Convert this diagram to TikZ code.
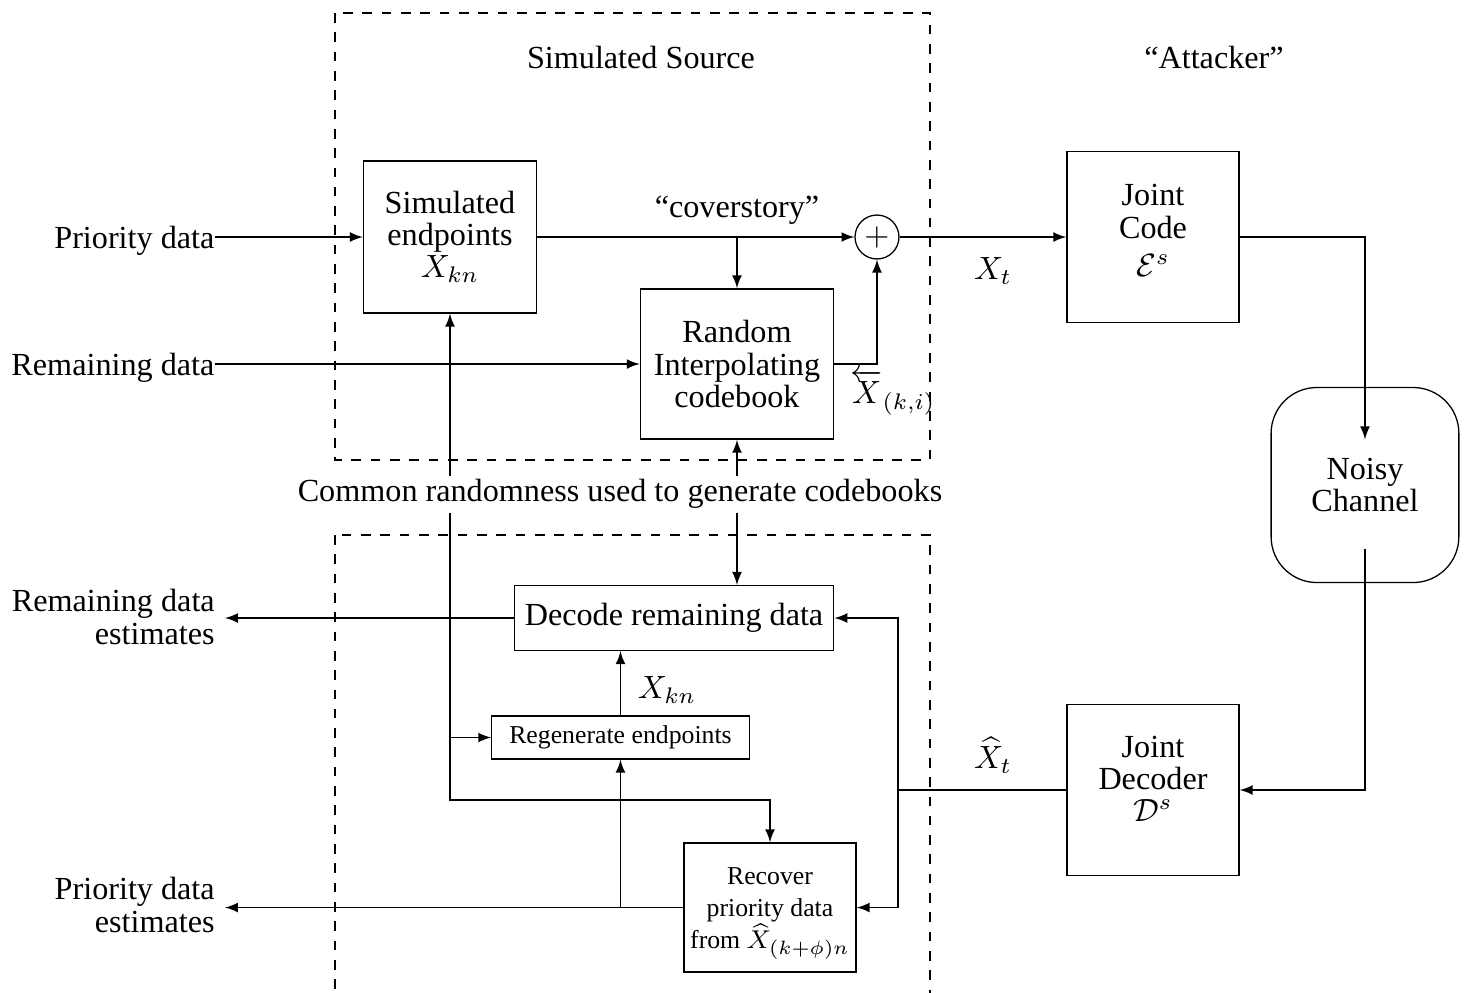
\documentclass[tikz,border=0pt]{standalone}
\usepackage{fontspec}
\setmainfont{Liberation Serif}
\usepackage{amsmath}
\usetikzlibrary{positioning}

\begin{document}
\begin{tikzpicture}[x=1.092cm, y=-1.092cm, font=\fontsize{10}{10}\selectfont,
    blk/.style={draw, align=center, inner sep=2pt},
    sml/.style={draw, align=center, inner sep=2pt, font=\fontsize{8}{10}\selectfont},
    lbl/.style={align=center, inner sep=1pt},
    arr/.style={-latex}]
    \useasboundingbox (0,0) rectangle (14.72,9.92);

    % Dashed regions
    \draw[dashed] (3.35,0.13) rectangle (9.30,4.60);
    \draw[dashed] (3.35,5.35) rectangle (9.30,10.20);
    \node[lbl] (srclbl) at (6.41,0.57) {Simulated Source};
    \node[lbl] (attlbl) at (12.14,0.57) {``Attacker''};

    % Blocks
    \node[blk, minimum width=1.89cm, minimum height=1.66cm] (sim) at (4.50,2.37) {Simulated\\endpoints\\$X_{kn}$};
    \node[blk, minimum width=2.11cm, minimum height=1.64cm] (cb) at (7.37,3.64) {Random\\Interpolating\\codebook};
    \node[draw, circle, minimum size=0.48cm, inner sep=0pt] (plus) at (8.77,2.37) {$+$};
    \node[blk, minimum width=1.88cm, minimum height=1.87cm] (enc) at (11.53,2.37) {};
    \node[lbl] (enctxt) at ([yshift=2pt]enc.center) {Joint\\Code\\[2pt]$\mathcal{E}^s$};
    \node[blk, rounded corners=0.5cm, minimum width=2.05cm, minimum height=2.13cm] (chanbox) at (13.65,4.85) {Noisy\\Channel};
    \node[minimum height=1.18cm] (chan) at (13.65,4.94) {};
    \node[blk, minimum width=1.88cm, minimum height=1.86cm] (dec) at (11.53,7.90) {};
    \node[lbl] (dectxt) at ([yshift=3.5pt]dec.center) {Joint\\Decoder\\$\mathcal{D}^s$};
    \node[blk, minimum width=3.49cm, minimum height=0.71cm] (dcd) at (6.74,6.18) {Decode remaining data};
    \node[sml, minimum width=2.81cm, minimum height=0.47cm] (regen) at (6.205,7.375) {Regenerate endpoints};
    \node[sml, minimum width=1.88cm, minimum height=1.41cm] (rec) at (7.70,9.075) {};
    \node[lbl, font=\fontsize{8}{10}\selectfont] (rectxt) at ([yshift=-1.8pt]rec.center) {Recover\\priority data\\from $\widehat{X}_{(k+\phi)n}$};

    % Inputs and outputs
    \node[lbl, anchor=east, inner sep=0pt] (pd) at (2.15,2.41) {Priority data};
    \node[lbl, anchor=east, inner sep=0pt] (rd) at (2.15,3.68) {Remaining data};
    \node[lbl, anchor=east, align=right, inner sep=3pt] (rde) at (2.25,6.17) {Remaining data\\estimates};
    \node[lbl, anchor=east, align=right, inner sep=3pt] (pde) at (2.25,9.05) {Priority data\\estimates};
    \node[lbl] (rand) at (6.20,4.94) {Common randomness used to generate codebooks};

    % Encoder side
    \draw[arr] (sim.west -| pd.east) -- (sim.west);
    \draw[arr] (cb.west -| rd.east) -- (cb.west);
    \draw[arr] (sim.east) -- (plus.west);
    \draw[arr] (cb.north |- sim.east) -- (cb.north);
    \draw[arr] (cb.east) -| (plus.south);
    \draw[arr] (plus.east) -- (enc.west);
    \draw[arr] (enc.east) -| (chan.north);
    \draw[arr] (chan.south) |- (dec.east);

    % Decoder side
    \coordinate (split) at (8.98,7.90);
    \draw (dec.west) -- (split);
    \draw[arr] (split) |- (dcd.east);
    \draw[arr] (split) |- (rec.east);
    \draw[arr] (dcd.west) -- (dcd.west -| rde.east);
    \draw[arr] (rec.west) -- (rec.west -| pde.east);
    \draw[arr] (regen.north) -- (regen.north |- dcd.south);
    \draw[arr] (regen.south |- rec.west) -- (regen.south);

    % Common randomness
    \coordinate (loop) at (4.53,8.00);
    \draw[arr] (rand.north -| cb.south) -- (cb.south);
    \draw[arr] (rand.south -| cb.south) -- (cb.south |- dcd.north);
    \draw[arr] (rand.north -| sim.south) -- (sim.south);
    \draw[arr] (rand.south -| sim.south) -- (sim.south |- loop) -| (rec.north);
    \draw[arr] (sim.south |- regen.west) -- (regen.west);

    % Signal labels
    \node[lbl] (cover) at (7.37,2.10) {``coverstory''};
    \node[lbl] (xt) at (9.93,2.71) {$X_t$};
    \node[lbl] (xhat) at (9.93,7.55) {$\widehat{X}_t$};
    \node[lbl] (xback) at (8.93,3.92) {$\overleftarrow{X}_{(k,i)}$};
    \node[lbl] (xkn) at (6.67,6.90) {$X_{kn}$};
\end{tikzpicture}
\end{document}
